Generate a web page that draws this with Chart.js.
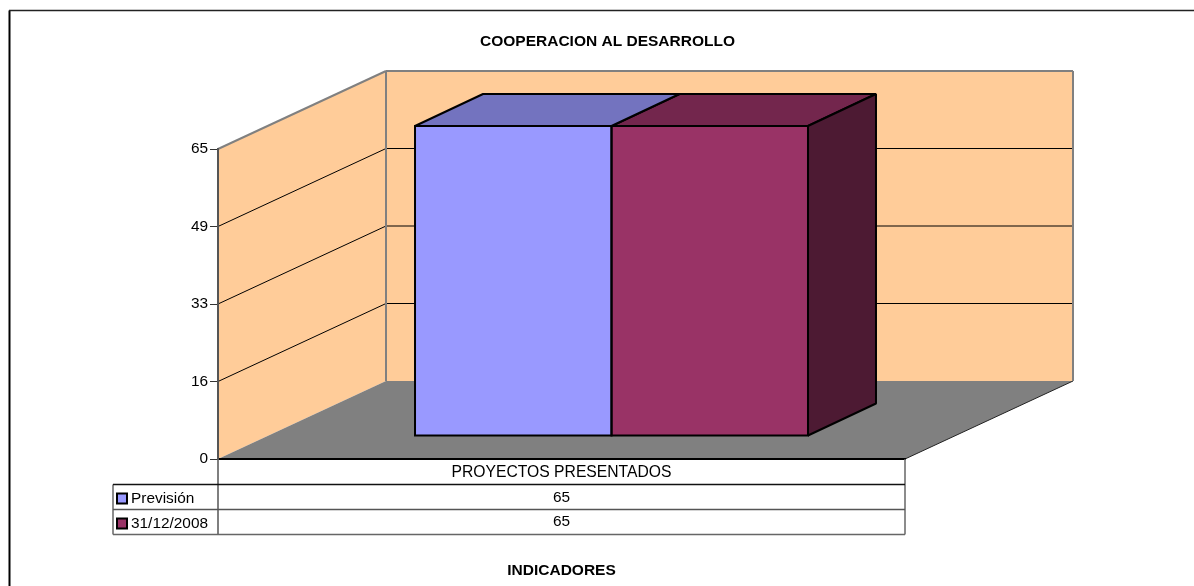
<!DOCTYPE html>
<html>
<head>
<meta charset="utf-8">
<style>
  html, body { margin: 0; padding: 0; background: #fff; }
  canvas { display: block; }
</style>
<script src="https://cdn.jsdelivr.net/npm/chart.js@4"></script>
</head>
<body>
<canvas id="chart" width="1194" height="586"></canvas>
<script>
const chartTitle = "COOPERACION AL DESARROLLO";
const xTitle = "INDICADORES";
const categories = ["PROYECTOS PRESENTADOS"];
const seriesNames = ["Previsión", "31/12/2008"];
const prevision = [65];
const dic2008 = [65];
const yMax = 65;
const yStep = 16.25; // Excel axis step, labels are rounded

const seriesColors = ["#9999FF", "#993366"];
const topColors = ["#7373BF", "#73264D"];
const sideColors = ["#4D4D80", "#4D1A33"];
const FONT = '"Liberation Sans", Arial, sans-serif';

// Fake 3D depth, in pixels
const wallDx = 168, wallDy = -78;
const barShiftX = 50, barShiftY = -23;
const barDx = 68, barDy = -32;

function poly(ctx, pts, fill, stroke, lineWidth) {
    ctx.beginPath();
    pts.forEach((p, i) => i ? ctx.lineTo(p[0], p[1]) : ctx.moveTo(p[0], p[1]));
    ctx.closePath();
    if (fill) { ctx.fillStyle = fill; ctx.fill(); }
    if (stroke) { ctx.strokeStyle = stroke; ctx.lineWidth = lineWidth; ctx.lineJoin = "bevel"; ctx.stroke(); }
}

function line(ctx, x1, y1, x2, y2, color, width) {
    ctx.beginPath();
    ctx.moveTo(x1, y1);
    ctx.lineTo(x2, y2);
    ctx.strokeStyle = color;
    ctx.lineWidth = width;
    ctx.stroke();
}

// Walls, floor and outer frame
const wallsPlugin = {
    id: "walls",
    beforeDraw(chart) {
        const { ctx, chartArea: a, scales } = chart;
        ctx.save();
        line(ctx, 9.5, 10.5, 9.5, 586, "#000", 2);
        line(ctx, 9, 10.5, 1194, 10.5, "#222", 1.5);

        const backL = a.left + wallDx, backR = a.right + wallDx;
        const backT = a.top + wallDy, backB = a.bottom + wallDy;
        poly(ctx, [[backL, backT], [backR, backT], [backR, backB], [backL, backB]], "#FFCC99");
        poly(ctx, [[a.left, a.top], [backL, backT], [backL, backB], [a.left, a.bottom]], "#FFCC99");
        poly(ctx, [[a.left, a.bottom], [a.right, a.bottom], [backR, backB], [backL, backB]], "#808080");
        line(ctx, a.right, a.bottom, backR, backB, "#222", 1);

        scales.y.ticks.forEach(t => {
            if (t.value <= 0 || t.value >= yMax) return;
            const y = scales.y.getPixelForValue(t.value);
            line(ctx, a.left, y, backL, y + wallDy, "#000", 1);
            line(ctx, backL, y + wallDy, backR, y + wallDy, "#000", 1);
        });
        line(ctx, a.left, a.top, backL, backT, "#808080", 2);
        line(ctx, backL, backT, backR, backT, "#808080", 2);
        line(ctx, backR, backT, backR, backB, "#808080", 2);
        line(ctx, backL, backT, backL, backB, "#808080", 2);
        ctx.restore();
    },
    beforeDatasetsDraw(chart) {
        const ctx = chart.ctx;
        ctx.save();
        ctx.translate(barShiftX, barShiftY);
        [1, 0].forEach(i => {
            const b = chart.getDatasetMeta(i).data[0];
            const l = b.x - b.width / 2, r = b.x + b.width / 2;
            poly(ctx, [[l, b.y], [r, b.y], [r + barDx, b.y + barDy], [l + barDx, b.y + barDy]], topColors[i], "#000", 2);
            if (i === 1) {
                poly(ctx, [[r, b.y], [r + barDx, b.y + barDy], [r + barDx, b.base + barDy], [r, b.base]], sideColors[i], "#000", 2);
            }
        });
        ctx.restore();
        // the bars themselves go in the same shifted position
        ctx.save();
        ctx.translate(barShiftX, barShiftY);
    },
    afterDatasetsDraw(chart) {
        const ctx = chart.ctx;
        [0, 1].forEach(i => {
            const b = chart.getDatasetMeta(i).data[0];
            ctx.strokeStyle = "#000";
            ctx.lineWidth = 2;
            ctx.strokeRect(b.x - b.width / 2, b.y, b.width, b.base - b.y);
        });
        ctx.restore();
    },
    // Data table under the axis plus the chart title
    afterDraw(chart) {
        const { ctx, chartArea: a } = chart;
        const rows = [484.5, 509.5, 534.5];
        const keyL = 113;
        const values = [prevision[0], dic2008[0]];
        const nameMid = [498.5, 523.5];
        const valueMid = [497.5, 521.5];
        ctx.save();
        line(ctx, a.left, a.bottom, a.left, rows[2], "#555", 1.5);
        line(ctx, a.right, a.bottom, a.right, rows[2], "#666", 1.5);
        line(ctx, keyL, rows[0], keyL, rows[2], "#666", 1.5);
        line(ctx, keyL, rows[0], a.right, rows[0], "#111", 1.5);
        line(ctx, keyL, rows[1], a.right, rows[1], "#555", 1.5);
        line(ctx, keyL, rows[2], a.right, rows[2], "#666", 1.5);

        ctx.textBaseline = "middle";
        ctx.font = "15.4px " + FONT;
        ctx.fillStyle = "#000";
        seriesNames.forEach((name, i) => {
            ctx.fillStyle = seriesColors[i];
            ctx.fillRect(117, nameMid[i] - 5, 10, 10);
            ctx.strokeStyle = "#000";
            ctx.lineWidth = 2;
            ctx.strokeRect(117, nameMid[i] - 5, 10, 10);
            ctx.fillStyle = "#000";
            ctx.textAlign = "left";
            ctx.fillText(name, 131, nameMid[i]);
            ctx.textAlign = "center";
            ctx.fillText(String(values[i]), (a.left + a.right) / 2, valueMid[i]);
        });

        ctx.font = "bold 15.5px " + FONT;
        ctx.textAlign = "center";
        ctx.fillText(chartTitle, 607.5, 42);
        ctx.restore();
    }
};

new Chart(document.getElementById("chart"), {
    type: "bar",
    data: {
        labels: categories,
        datasets: [
            { label: seriesNames[0], data: prevision, backgroundColor: seriesColors[0], borderWidth: 0, clip: false },
            { label: seriesNames[1], data: dic2008, backgroundColor: seriesColors[1], borderWidth: 0, clip: false }
        ]
    },
    options: {
        responsive: false,
        animation: false,
        layout: { padding: { top: 149, right: 289, left: 0, bottom: 0 } },
        datasets: { bar: { categoryPercentage: 0.572, barPercentage: 1 } },
        plugins: { legend: { display: false }, title: { display: false }, tooltip: { enabled: false } },
        scales: {
            x: {
                afterFit(scale) { scale.height = 127; },
                grid: { display: false, drawTicks: false },
                border: { display: true, color: "#000", width: 2 },
                ticks: { color: "#000", padding: 4, maxRotation: 0, font: { family: FONT, size: 15.7 } },
                title: {
                    display: true,
                    text: xTitle,
                    color: "#000",
                    padding: { top: 0, bottom: 6 },
                    font: { family: FONT, size: 15.5, weight: "bold" }
                }
            },
            y: {
                min: 0,
                max: yMax,
                afterFit(scale) { scale.width = 218; },
                grid: { drawOnChartArea: false, drawTicks: true, tickLength: 8, color: "#333" },
                border: { display: true, color: "#555", width: 2 },
                ticks: {
                    stepSize: yStep,
                    color: "#000",
                    padding: 2,
                    font: { family: FONT, size: 15.4 },
                    callback: v => Math.round(v)
                }
            }
        }
    },
    plugins: [wallsPlugin]
});
</script>
</body>
</html>
